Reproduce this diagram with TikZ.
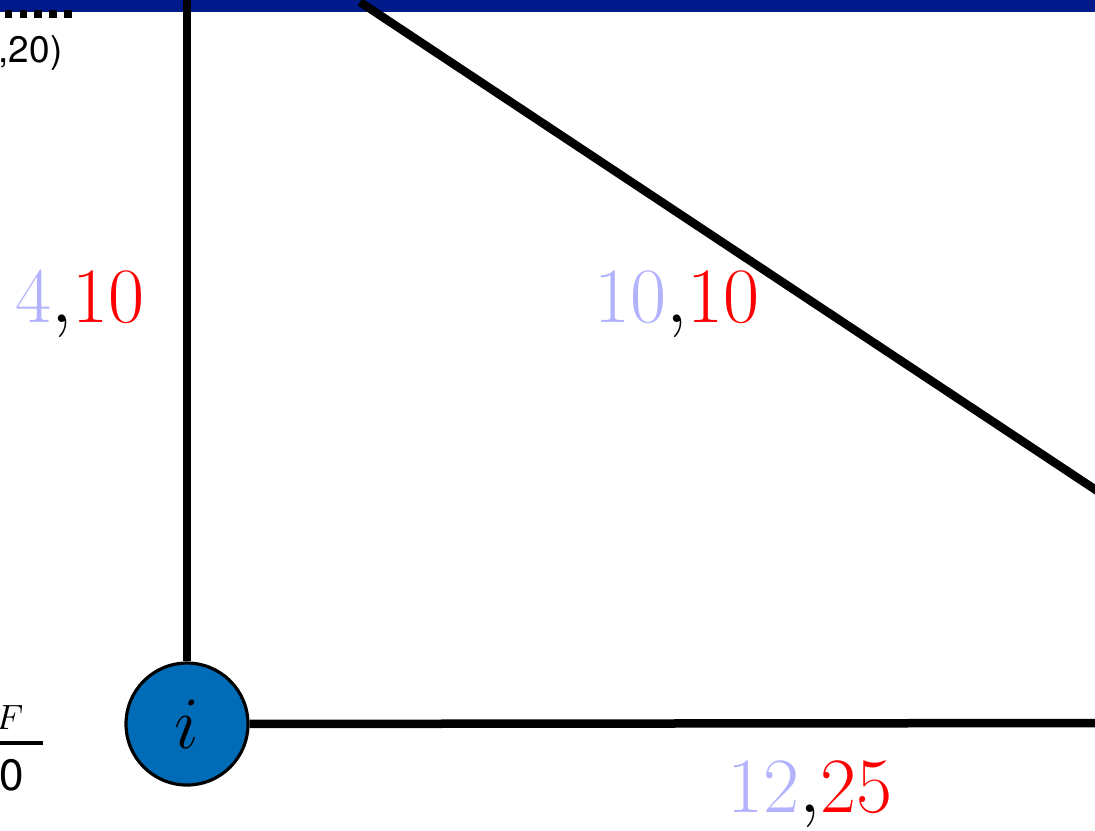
\RequirePackage{fix-cm}
\documentclass[tikz,border=0pt]{standalone}
\usepackage{amsmath}
\usepackage{fontspec}
\setsansfont{TeX Gyre Heros}
\usepackage{xcolor}
\usepackage{tikz}
\usetikzlibrary{positioning}
\definecolor{nodeblue}{RGB}{0,108,183}
\definecolor{bandblue}{RGB}{0,26,140}
\colorlet{lowval}{blue!30}

\begin{document}
\begin{tikzpicture}[x=1cm, y=1cm,
        edge/.style={line width=0.085cm, black},
        vertex/.style={circle, draw=black, line width=0.9pt, fill=nodeblue, minimum size=1.22cm, inner sep=0pt, font=\fontsize{21}{25}\selectfont},
        weight/.style={anchor=base, font=\fontsize{22.3}{26}\selectfont}]
        \useasboundingbox (0,0) rectangle (10.95,8.30);
        \clip (0,0) rectangle (10.95,8.30);
        \fill[bandblue] (-0.1,8.18) rectangle (11.1,8.40);
        \draw[line width=2.2pt, dotted] (-0.1,8.16) -- (0.74,8.16);
        \coordinate (up) at (1.87,8.40);
        \coordinate (right) at (11.20,1.07);
        \coordinate (dstart) at (3.60,8.28);
        \coordinate (dend) at (11.20,3.24);
        \node[vertex] (i) at (1.87,1.06) {$i$};
        \draw[edge] (i) -- (up);
        \draw[edge] (i) -- (right);
        \draw[edge] (dstart) -- (dend);
        \node[weight] (wup) at (0.80,5.08) {$\textcolor{lowval}{4}{,}\textcolor{red}{10}$};
        \node[weight] (wdiag) at (6.77,5.08) {$\textcolor{lowval}{10}{,}\textcolor{red}{10}$};
        \node[weight] (wright) at (8.10,0.18) {$\textcolor{lowval}{12}{,}\textcolor{red}{25}$};
        \node[anchor=base east, inner sep=0pt, font=\sffamily\fontsize{10.5}{12}\selectfont] (pt) at (0.63,7.68) {,20)};
        \node[inner sep=0pt, font=\fontsize{10}{12}\selectfont] (cf) at (0.095,1.13) {$F$};
        \draw[line width=1.4pt] (-0.1,0.87) -- (0.43,0.87);
        \node[anchor=base west, inner sep=0pt, font=\sffamily\fontsize{12.5}{14}\selectfont] (cz) at (-0.01,0.40) {0};
    \end{tikzpicture}
\end{document}
